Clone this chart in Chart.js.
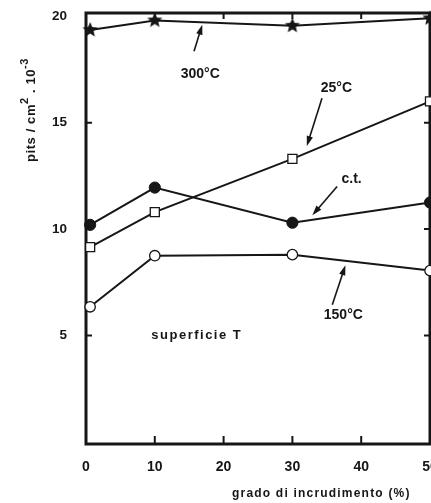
<!DOCTYPE html>
<html>
<head>
<meta charset="utf-8">
<script src="https://cdn.jsdelivr.net/npm/chart.js@4"></script>
<style>
  html, body { margin: 0; padding: 0; background: #fff; overflow: hidden; }
</style>
</head>
<body>
<canvas id="pits" width="440" height="503" style="width:440px;height:503px;display:block"></canvas>
<script>
// Data
const strainX = [0.6, 10, 30, 50];           // grado di incrudimento (%)
const pits300 = [19.35, 19.8, 19.55, 19.9];  // 300°C
const pits25 = [9.15, 10.8, 13.3, 16.0];     // 25°C
const pitsCt = [10.2, 11.95, 10.3, 11.25];   // c.t.
const pits150 = [6.35, 8.75, 8.8, 8.05];     // 150°C
const xTickValues = [0, 10, 20, 30, 40, 50];
const yTickValues = [5, 10, 15, 20];

const INK = '#161616';
const FONT = '"Liberation Sans", Arial, sans-serif';

// labels + arrows placed in data units
const notes = [
  { text: '300°C', at: [16.6, 17.3], from: [15.7, 18.35], to: [16.9, 19.6] },
  { text: '25°C', at: [36.4, 16.6], from: [34.3, 16.15], to: [32.1, 13.9] },
  { text: 'c.t.', at: [38.6, 12.35], from: [36.5, 12.0], to: [32.9, 10.65] },
  { text: '150°C', at: [37.4, 5.95], from: [35.8, 6.45], to: [37.7, 8.3] }
];

function makeStar(r) {
  const c = document.createElement('canvas');
  c.width = c.height = 2 * r + 2;
  const g = c.getContext('2d');
  g.fillStyle = INK;
  g.beginPath();
  for (let i = 0; i < 10; i++) {
    const rad = i % 2 ? r * 0.45 : r;
    const a = -Math.PI / 2 + i * Math.PI / 5;
    g.lineTo(r + 1 + rad * Math.cos(a), r + 1 + rad * Math.sin(a));
  }
  g.closePath();
  g.fill();
  return c;
}

function series(ys) {
  return ys.map((v, i) => ({ x: strainX[i], y: v }));
}

function arrow(ctx, x1, y1, x2, y2) {
  const ang = Math.atan2(y2 - y1, x2 - x1);
  const len = 10, half = 3.2;
  ctx.beginPath();
  ctx.moveTo(x1, y1);
  ctx.lineTo(x2 - Math.cos(ang) * len * 0.8, y2 - Math.sin(ang) * len * 0.8);
  ctx.stroke();
  ctx.beginPath();
  ctx.moveTo(x2, y2);
  ctx.lineTo(x2 - Math.cos(ang) * len - Math.sin(ang) * half, y2 - Math.sin(ang) * len + Math.cos(ang) * half);
  ctx.lineTo(x2 - Math.cos(ang) * len + Math.sin(ang) * half, y2 - Math.sin(ang) * len - Math.cos(ang) * half);
  ctx.closePath();
  ctx.fill();
}

// frame with inward ticks, drawn under the lines
const framePlugin = {
  id: 'frame',
  beforeDatasetsDraw(chart) {
    const { ctx, chartArea: a, scales: { x, y } } = chart;
    ctx.save();
    ctx.strokeStyle = INK;
    ctx.lineWidth = 3;
    ctx.strokeRect(a.left, a.top, a.right - a.left, a.bottom - a.top + 2);
    ctx.lineWidth = 2;
    ctx.beginPath();
    [10, 20, 30, 40].forEach(v => {
      const px = x.getPixelForValue(v);
      ctx.moveTo(px, a.bottom + 1); ctx.lineTo(px, a.bottom - 6);
      ctx.moveTo(px, a.top); ctx.lineTo(px, a.top + 6);
    });
    [5, 10, 15].forEach(v => {
      const py = y.getPixelForValue(v);
      ctx.moveTo(a.left, py); ctx.lineTo(a.left + 6, py);
      ctx.moveTo(a.right, py); ctx.lineTo(a.right - 6, py);
    });
    ctx.stroke();
    ctx.restore();
  },
  afterDatasetsDraw(chart) {
    const { ctx, scales: { x, y } } = chart;
    ctx.save();
    ctx.fillStyle = INK;
    ctx.strokeStyle = INK;
    ctx.lineWidth = 1.6;
    ctx.textAlign = 'center';
    ctx.textBaseline = 'middle';
    ctx.font = 'bold 14px ' + FONT;
    notes.forEach(n => {
      ctx.fillText(n.text, x.getPixelForValue(n.at[0]), y.getPixelForValue(n.at[1]));
      arrow(ctx, x.getPixelForValue(n.from[0]), y.getPixelForValue(n.from[1]),
        x.getPixelForValue(n.to[0]), y.getPixelForValue(n.to[1]));
    });

    ctx.font = 'bold 13px ' + FONT;
    ctx.letterSpacing = '1.5px';
    ctx.fillText('superficie T', x.getPixelForValue(16.1), y.getPixelForValue(5));

    // x title
    ctx.letterSpacing = '1.2px';
    ctx.textAlign = 'left';
    ctx.font = 'bold 12px ' + FONT;
    ctx.fillText('grado di incrudimento (%)', 232, 494);

    // y title with superscripts
    ctx.letterSpacing = '0.6px';
    const parts = [['pits / cm', false], ['2', true], [' . 10', false], ['-3', true]];
    const big = 'bold 13px ' + FONT, small = 'bold 11px ' + FONT;
    let total = 0;
    parts.forEach(p => { ctx.font = p[1] ? small : big; total += ctx.measureText(p[0]).width; });
    ctx.translate(31, 110);
    ctx.rotate(-Math.PI / 2);
    let cx = -total / 2;
    parts.forEach(p => {
      ctx.font = p[1] ? small : big;
      ctx.fillText(p[0], cx, p[1] ? -6 : 0);
      cx += ctx.measureText(p[0]).width;
    });
    ctx.restore();
  }
};

const lineBase = { borderColor: INK, borderWidth: 2, clip: false, tension: 0 };

new Chart(document.getElementById('pits').getContext('2d'), {
  type: 'line',
  data: {
    datasets: [
      Object.assign({ label: '300°C', data: series(pits300), pointStyle: makeStar(8), pointRadius: 8 }, lineBase),
      Object.assign({ label: '25°C', data: series(pits25), pointStyle: 'rect', pointRadius: 6.4,
        pointBackgroundColor: '#fff', pointBorderColor: INK, pointBorderWidth: 1.3 }, lineBase),
      Object.assign({ label: 'c.t.', data: series(pitsCt), pointStyle: 'circle', pointRadius: 5.6,
        pointBackgroundColor: INK, pointBorderColor: INK, pointBorderWidth: 1 }, lineBase),
      Object.assign({ label: '150°C', data: series(pits150), pointStyle: 'circle', pointRadius: 5.2,
        pointBackgroundColor: '#fff', pointBorderColor: INK, pointBorderWidth: 1.3 }, lineBase)
    ]
  },
  options: {
    responsive: false,
    animation: false,
    layout: { padding: { top: 13, right: 10, left: 0, bottom: 0 } },
    plugins: { legend: { display: false }, tooltip: { enabled: false } },
    scales: {
      x: {
        type: 'linear',
        min: 0,
        max: 50,
        grid: { display: false },
        border: { display: false },
        afterBuildTicks: scale => { scale.ticks = xTickValues.map(v => ({ value: v })); },
        afterFit: scale => { scale.height = 61; scale.paddingLeft = 0; scale.paddingRight = 0; },
        ticks: { color: INK, padding: 9, maxRotation: 0, font: { family: FONT, size: 14, weight: 'bold' } }
      },
      y: {
        min: 0,
        max: 20.15,
        grid: { display: false },
        border: { display: false },
        afterBuildTicks: scale => { scale.ticks = yTickValues.map(v => ({ value: v })); },
        afterFit: scale => { scale.width = 86; scale.paddingTop = 0; scale.paddingBottom = 0; },
        ticks: { color: INK, padding: 11, font: { family: FONT, size: 13.5, weight: 'bold' } }
      }
    }
  },
  plugins: [framePlugin]
});
</script>
</body>
</html>
